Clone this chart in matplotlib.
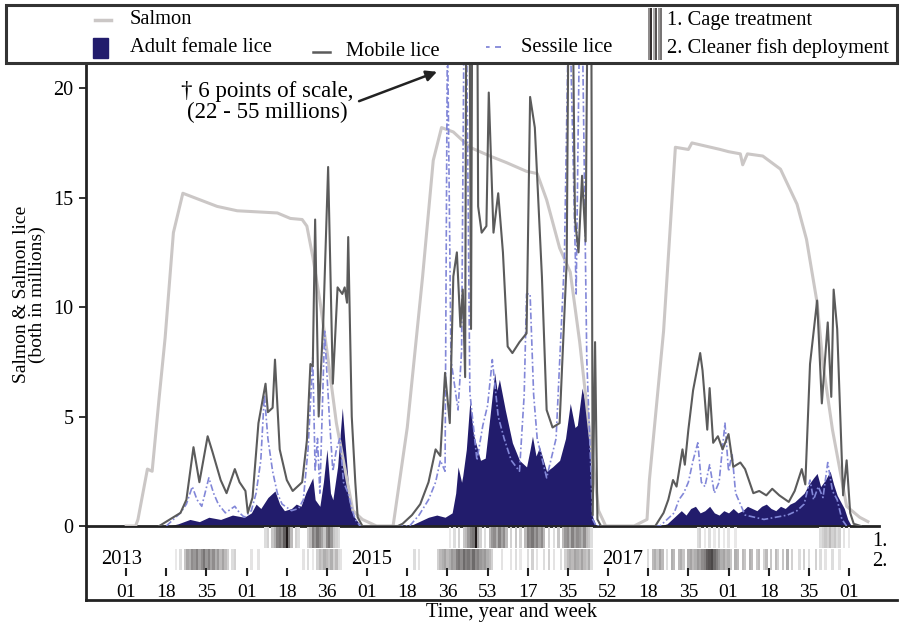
import matplotlib
matplotlib.use('Agg')
import matplotlib.pyplot as plt
from matplotlib.patches import Rectangle
from matplotlib.lines import Line2D

plt.rcParams['font.family'] = ['Liberation Serif', 'DejaVu Serif']

# ---------------- data (week index from 2013 week 01) ----------------
salmon_w = [0, 4, 5, 9, 11, 14, 16.5, 20, 24, 38.5, 47, 64, 69.5, 74.5, 76.5, 79, 82, 85, 89, 93.5, 96, 100, 106,
            113, 119, 125.5, 130, 133.5, 138.5, 145.5, 154, 161, 169.5, 174, 178, 183.5, 188, 192, 196, 200, 203, 215,
            220.5, 221.5, 227.5, 232.5, 238, 239.5, 251.5, 255, 260, 261, 263, 269.5, 277, 284, 288, 292.5, 295, 299,
            305, 310.5, 314]
salmon_v = [0, 0, 0.3, 2.6, 2.5, 5.9, 8.6, 13.4, 15.2, 14.6, 14.4, 14.3, 14.05, 14.0, 13.7, 12.3, 10.3, 8.0, 4.7, 2.1,
            0.7, 0.3, 0,
            0, 4.5, 11.4, 16.7, 18.2, 18.0, 17.3, 16.9, 16.6, 16.2, 16.1, 14.9, 12.7, 11.6, 8.4, 4.5, 0.7, 0, 0,
            0.3, 2.1, 8.9, 17.3, 17.2, 17.5, 17.2, 17.1, 17.0, 16.5, 17.0, 16.9, 16.3, 14.7, 13.1, 10.2, 7.4, 4.4,
            0.9, 0.4, 0.2]

mobile_w = [14, 18.5, 23, 25.5, 28.5, 31, 34.5, 36.5, 40, 42.5, 46, 48, 50.5, 51.5, 53.5, 56, 59, 60, 62, 63, 65, 68,
            70.5, 74.5, 76.5, 78, 79, 80, 81.5, 83.5, 85.5, 87.5, 89.5, 91.5, 92.5, 93.5, 94, 95.5, 97, 98, 100,
            115, 117, 121, 124.5, 128, 131, 133, 135, 137, 138.5, 140, 141.5, 142.5, 143.5, 144.5, 146, 147.5, 149,
            150.5, 152.5, 153.5, 155.5, 157.5, 159.5, 161.5, 163.5, 166.5, 169.5, 171, 173, 176, 178, 180.5, 183.5,
            186.5, 188, 190, 191.5, 193, 194.5, 196.5, 197.5, 198.5, 199.5, 201,
            224, 227.5, 229.5, 231.5, 233, 235.5, 236.5, 238, 240, 243, 244, 246, 247, 248.5, 250.5, 252.5, 255, 257,
            260, 262, 265.5, 268, 271, 273.5, 276.5, 280.5, 283, 286, 287.5, 289.5, 292.5, 294.5, 297, 298.5, 299.5,
            301, 302.5, 303.5, 305, 306.5, 308, 311]
mobile_v = [0, 0.3, 0.6, 1.2, 3.6, 2.0, 4.1, 3.4, 2.1, 1.5, 2.6, 2.0, 1.6, 0.6, 1.3, 4.7, 6.5, 5.2, 5.4, 7.6, 3.5, 2.1,
            1.6, 2.0, 3.9, 7.4, 7.3, 14.0, 5.0, 9.5, 16.4, 6.5, 10.9, 10.6, 10.9, 10.2, 13.2, 5.0, 2.0, 0.4, 0,
            0, 0.1, 0.5, 1.0, 2.0, 3.5, 3.2, 7.0, 4.7, 11.4, 12.5, 9.1, 10.8, 6.8, 45, 9.0, 55, 14.6,
            13.4, 13.7, 19.8, 13.4, 15.2, 12.5, 8.2, 7.9, 8.4, 8.8, 19.6, 18.2, 11.4, 5.3, 4.5, 4.7,
            12.1, 35, 14.0, 12.5, 16.0, 13.0, 40, 0.5, 8.4, 0.3, 0,
            0, 0.6, 1.2, 2.1, 1.8, 3.5, 2.8, 4.4, 6.2, 7.9, 7.1, 4.4, 6.3, 3.8, 4.1, 3.5, 4.2, 2.7,
            2.9, 2.6, 1.5, 1.6, 1.4, 1.7, 1.4, 1.1, 1.6, 2.6, 1.9, 7.4, 10.3, 5.6, 9.3, 5.9, 10.8,
            9.0, 4.4, 1.4, 3.0, 0.6, 0.1, 0]

sessile_w = [17, 20, 23, 25.5, 28, 30, 32, 35, 37, 39, 42, 46, 48, 50, 53, 55, 57, 58.5, 60, 62, 64, 66, 70, 73, 75,
             77, 79, 80, 81, 82, 84, 86, 87.5, 89, 90.5, 92, 94, 95.5, 97, 99,
             120, 124, 128, 131, 133, 135, 136, 137.5, 140.5, 142, 143.5, 145.5, 148.5, 151, 153, 155, 157.5, 160,
             163, 166.5, 168.5, 169.5, 171, 172.5, 174, 178, 182, 185.5, 187.5, 190.5, 192.5, 195, 197.5, 199,
             226, 229, 232, 234, 236, 238, 240, 242, 243.5, 245, 247, 249, 251, 253.5, 255, 256.5, 258, 260, 262,
             266, 270, 275, 280, 284, 287, 289.5, 291, 293, 295, 297, 299, 301, 303, 305]
sessile_v = [0, 0.3, 0.6, 1.0, 1.8, 1.2, 0.9, 2.2, 1.5, 1.0, 0.6, 0.9, 0.6, 0.4, 0.7, 1.5, 3.0, 6.0, 4.0, 2.5, 1.5,
             1.0, 0.7, 0.8, 1.2, 3.5, 7.7, 2.5, 4.0, 1.5, 8.9, 5.0, 2.5, 3.5, 4.0, 2.0, 1.5, 0.8, 0.3, 0,
             0, 0.5, 1.2, 2.0, 3.0, 2.5, 23, 7.6, 5.3, 8.0, 30, 6.1, 3.0, 4.6, 5.5, 7.6, 5.0, 4.0,
             3.0, 2.5, 6.0, 10.6, 10.6, 6.0, 4.0, 2.2, 4.0, 12.1, 25, 10.6, 28, 7.6, 0.3, 0,
             0, 0.3, 0.6, 1.2, 1.5, 2.0, 3.0, 3.8, 2.0, 1.8, 2.8, 1.5, 2.0, 4.7, 2.5, 3.3, 1.5, 1.0, 0.5,
             0.4, 0.3, 0.4, 0.5, 0.7, 1.0, 2.1, 1.2, 1.8, 1.3, 2.9, 1.6, 1.2, 0.3, 0]

female_w = [18, 22, 27, 31, 35, 40, 45, 50, 53, 55, 57, 60, 63, 65, 67, 70, 72, 74, 76, 79, 80, 82, 83.5, 85, 86.5,
            87.5, 89.5, 91.5, 92.5, 94, 96, 98, 99.5,
            120, 124, 128, 131.5, 135, 138, 139.5, 140.5, 142, 142.5, 144, 145.5, 147, 148, 150, 152, 154, 156, 157,
            158, 160.5, 163.5, 166.5, 169.5, 171, 172, 173.5, 175, 178, 180.5, 183.5, 186, 188, 190, 191, 193,
            195.5, 196.5, 197.5, 199,
            226, 229, 231, 233, 235, 237, 239, 241, 243, 245, 247, 249, 251, 253, 255, 257, 259, 261, 263, 265,
            267, 269, 271, 273, 275, 277, 279, 281, 283, 285, 287, 289, 291, 292.5, 294, 296, 298, 299.5, 301,
            302.5, 304, 305.5, 307]
female_v = [0, 0.1, 0.3, 0.2, 0.4, 0.3, 0.5, 0.4, 0.6, 1.0, 0.8, 1.3, 1.6, 1.0, 0.7, 0.8, 1.0, 0.9, 1.5, 2.2, 1.2,
            0.9, 2.0, 3.5, 1.5, 1.2, 2.7, 5.4, 4.0, 2.0, 0.5, 0.2, 0,
            0, 0.2, 0.4, 0.5, 0.4, 0.6, 1.5, 2.7, 2.0, 2.3, 3.5, 5.7, 4.2, 3.8, 3.0, 3.1, 5.0, 7.0, 6.2,
            6.7, 5.3, 3.8, 3.0, 2.7, 3.5, 4.1, 3.2, 3.6, 2.5, 2.7, 3.0, 4.0, 5.6, 4.5, 4.6, 6.3,
            5.1, 3.0, 0.4, 0,
            0, 0.1, 0.3, 0.5, 0.7, 0.5, 0.8, 0.9, 0.6, 0.7, 0.9, 0.6, 0.5, 0.7, 0.6, 0.8, 0.6, 0.7, 0.9, 0.8,
            0.7, 0.9, 1.0, 0.8, 0.7, 0.9, 0.8, 1.0, 1.1, 1.3, 1.5, 1.9, 2.2, 2.4, 1.8, 2.1, 2.5, 1.9, 1.4,
            1.1, 0.8, 0.3, 0]

# treatment events (week, shade 0..1)
cage_w = [59, 60, 62, 63, 64, 65, 66, 67, 68, 69, 70, 72, 73,
          77, 78, 79, 80, 81, 82, 83, 84, 85, 86, 87, 88, 89, 90,
          137, 139, 141, 143, 144, 145, 146, 147, 148, 149, 150, 152, 154, 155, 156, 157, 158, 159, 160, 161, 163,
          165, 167, 169, 170, 171, 172, 173, 174, 175, 176, 177, 179, 181, 183, 185, 186, 187, 188, 189, 190, 191,
          192, 193, 194, 195, 196, 197,
          242, 243, 245, 247, 249, 251, 253, 255, 258,
          294, 295, 296, 297, 298, 299, 300, 301, 302, 304, 306]
cage_shade = [0.15, 0.2, 0.25, 0.35, 0.55, 0.6, 0.5, 0.7, 1.0, 0.6, 0.3, 0.2, 0.15,
              0.2, 0.3, 0.55, 0.45, 0.6, 0.5, 0.4, 0.25, 0.5, 0.6, 0.45, 0.25, 0.2, 0.15,
              0.1, 0.15, 0.2, 0.25, 0.3, 0.45, 0.55, 0.6, 1.0, 0.4, 0.2, 0.15, 0.3, 0.45, 0.5, 0.35, 0.55, 0.4, 0.5,
              0.3, 0.2, 0.25, 0.2, 0.3, 0.55, 0.5, 0.6, 0.45, 0.55, 0.4, 0.5, 0.3, 0.2, 0.15, 0.25, 0.3, 0.45, 0.5,
              0.35, 0.55, 0.4, 0.5, 0.45, 0.35, 0.5, 0.3, 0.25, 0.15,
              0.15, 0.2, 0.1, 0.15, 0.1, 0.15, 0.1, 0.12, 0.1,
              0.15, 0.2, 0.25, 0.2, 0.3, 0.2, 0.25, 0.15, 0.2, 0.12, 0.1]

clean_w = [21, 23, 25, 26, 27, 28, 29, 30, 31, 32, 33, 34, 35, 36, 37, 38, 39, 40, 41, 42, 43, 45, 46,
           53, 56,
           75, 77, 79, 81, 82, 83, 84, 85, 86, 87, 88, 89, 90, 91,
           122, 124,
           132, 133, 134, 135, 136, 137, 138, 139, 140, 141, 142, 143, 144, 145, 146, 147, 148, 149, 150, 151, 152,
           153, 154, 155,
           159,
           163, 165, 167, 170, 172, 174, 177, 179, 181, 184, 186, 187, 188, 189, 190, 191, 192, 193, 194, 195, 196,
           197,
           221, 223, 224, 225, 226, 227, 229, 231, 232, 234, 235, 236, 238, 239, 240, 241, 242, 243, 244, 245, 246,
           247, 248, 249, 250, 251, 252, 253, 254, 255, 256, 258, 259, 261, 262, 264, 265, 267, 268, 270, 271, 273,
           275, 276, 278, 280, 282, 285, 287, 289, 292, 294, 296, 299, 302]
clean_shade = [0.1, 0.15, 0.25, 0.4, 0.35, 0.5, 0.45, 0.55, 0.4, 0.5, 0.6, 0.45, 0.55, 0.4, 0.5, 0.35, 0.45, 0.3,
               0.4, 0.3, 0.2, 0.15, 0.2,
               0.12, 0.12,
               0.12, 0.15, 0.1, 0.2, 0.3, 0.25, 0.35, 0.3, 0.25, 0.35, 0.2, 0.3, 0.15, 0.12,
               0.15, 0.12,
               0.2, 0.3, 0.35, 0.4, 0.3, 0.35, 0.45, 0.4, 0.55, 0.6, 0.5, 0.65, 0.55, 0.6, 0.5, 0.65, 0.5, 0.55,
               0.45, 0.4, 0.45, 0.35, 0.3, 0.2,
               0.12,
               0.12, 0.15, 0.1, 0.15, 0.2, 0.12, 0.15, 0.2, 0.12, 0.15, 0.2, 0.3, 0.35, 0.3, 0.4, 0.35, 0.3, 0.4,
               0.3, 0.25, 0.35, 0.15,
               0.15, 0.3, 0.35, 0.25, 0.4, 0.3, 0.15, 0.35, 0.3, 0.3, 0.35, 0.25, 0.35, 0.4, 0.3, 0.35, 0.45, 0.4,
               0.5, 0.55, 0.7, 0.75, 0.8, 0.65, 0.55, 0.45, 0.35, 0.4, 0.3, 0.35, 0.25, 0.35, 0.3, 0.3, 0.25, 0.35,
               0.3, 0.25, 0.3, 0.2, 0.3, 0.25, 0.3, 0.2, 0.25, 0.35, 0.2, 0.15, 0.2, 0.15, 0.2, 0.15, 0.12, 0.15,
               0.12]

tick_pos = [0, 17, 34, 51, 68, 85, 102, 119, 136, 153, 170, 187, 204, 221, 238, 255, 272, 289, 306]
tick_labels = ['01', '18', '35', '01', '18', '36', '01', '18', '36', '53', '17', '35', '52', '18', '35', '01',
               '18', '35', '01']
year_labels = ['2013', '2015', '2017']
year_pos = [-2, 104, 210]

assert len(salmon_w) == len(salmon_v)
assert len(mobile_w) == len(mobile_v)
assert len(sessile_w) == len(sessile_v)
assert len(female_w) == len(female_v)
assert len(cage_w) == len(cage_shade)
assert len(clean_w) == len(clean_shade)

# ---------------- styling ----------------
W, H = 900, 629
FS = 14
FSL = 14.8
C_SALMON = '#cbc7c6'
C_MOBILE = '#5b5b5b'
C_SESSILE = '#8287d8'
C_FEMALE = '#221c6c'
C_AX = '#222222'


def fx(px):
    return px / W


def fy(py):
    return 1 - py / H


def shade_color(d):
    return (1 - 0.88 * d, 1 - 0.9 * d, 1 - 0.9 * d)


fig = plt.figure(figsize=(9, 6.29), dpi=100)

L, R = 86, 879
ax = fig.add_axes([fx(L), fy(526), fx(R) - fx(L), fy(63) - fy(526)])
ax2 = fig.add_axes([fx(L), fy(576), fx(R) - fx(L), fy(526) - fy(576)], sharex=ax)
axf = fig.add_axes([fx(L), fy(600), fx(897) - fx(L), fy(526) - fy(600)], zorder=-1)
for a in (ax, ax2, axf):
    a.patch.set_visible(False)

# main plot
ax.fill_between(female_w, 0, female_v, color=C_FEMALE, lw=0, zorder=2)
ax.plot(salmon_w, salmon_v, color=C_SALMON, lw=2.2, zorder=3)
ax.plot(sessile_w, sessile_v, color=C_SESSILE, lw=1.2, dashes=(4, 1.5, 1, 1.5), zorder=4)
ax.plot(mobile_w, mobile_v, color=C_MOBILE, lw=1.5, zorder=5)

ax.set_xlim(-17, 318.7)
ax.set_ylim(0, 21.15)
ax.set_yticks([0, 5, 10, 15, 20])
ax.tick_params(axis='y', labelsize=FS + 0.5, length=5, width=1.3, color=C_AX, pad=4)
ax.tick_params(axis='x', bottom=False, labelbottom=False)
for s in ('top', 'right'):
    ax.spines[s].set_visible(False)
for s in ('left', 'bottom'):
    ax.spines[s].set_linewidth(2)
    ax.spines[s].set_color(C_AX)
ax.set_ylabel('Salmon & Salmon lice\n(both in millions)', fontsize=FS, labelpad=5, linespacing=0.9)

ax.annotate('\u2020 6 points of scale,\n(22 - 55 millions)', xy=(131.6, 20.75), xytext=(59.8, 19.35),
            ha='center', va='center', fontsize=16.5, linespacing=1.0,
            arrowprops=dict(arrowstyle='-|>', color=C_AX, lw=1.8, mutation_scale=16,
                            relpos=(0.98, 0.45), shrinkA=2, shrinkB=0))

# treatment strip
ax2.set_ylim(0, 1)
ax2.bar(cage_w, 0.43, bottom=0.56, width=1.0, color=[shade_color(d) for d in cage_shade], lw=0)
ax2.bar(clean_w, 0.42, bottom=0.13, width=1.0, color=[shade_color(d) for d in clean_shade], lw=0)
for s in ax2.spines.values():
    s.set_visible(False)
ax2.set_yticks([])
ax2.set_xticks(tick_pos)
ax2.set_xticklabels(tick_labels)
ax2.tick_params(axis='x', direction='in', length=6, width=1.5, color=C_AX, pad=6, labelsize=FS)
for yl, yp in zip(year_labels, year_pos):
    ax2.text(yp, 0.33, yl, fontsize=FSL, ha='center', va='center', zorder=5)
ax2.text(316.0, 0.70, '1.', fontsize=FSL, ha='left', va='center', clip_on=False)
ax2.text(315.6, 0.30, '2.', fontsize=FSL, ha='left', va='center', clip_on=False)

# frame for strip
axf.set_xticks([])
axf.set_yticks([])
for s in ('top', 'right'):
    axf.spines[s].set_visible(False)
for s in ('left', 'bottom'):
    axf.spines[s].set_linewidth(2)
    axf.spines[s].set_color(C_AX)

fig.text(fx(512), fy(612), 'Time, year and week', fontsize=FSL, ha='center', va='center')

# legend box
fig.add_artist(Rectangle((fx(6), fy(63)), fx(897) - fx(6), fy(5) - fy(63), fill=False,
                         edgecolor='#333333', lw=2.2, transform=fig.transFigure))
fig.add_artist(Line2D([fx(95), fx(111)], [fy(20), fy(20)], color=C_SALMON, lw=2.5, transform=fig.transFigure))
fig.text(fx(130), fy(20), 'Salmon', fontsize=FSL, va='center', ha='left')
fig.add_artist(Rectangle((fx(93), fy(58)), fx(108) - fx(93), fy(38) - fy(58), color=C_FEMALE,
                         transform=fig.transFigure))
fig.text(fx(130), fy(48), 'Adult female lice', fontsize=FSL, va='center', ha='left')
fig.add_artist(Line2D([fx(313), fx(330)], [fy(52), fy(52)], color=C_MOBILE, lw=1.8, transform=fig.transFigure))
fig.text(fx(346), fy(51), 'Mobile lice', fontsize=FSL, va='center', ha='left')
fig.add_artist(Line2D([fx(486), fx(501)], [fy(47), fy(47)], color=C_SESSILE, lw=1.3, dashes=(2, 3, 4, 3),
                      transform=fig.transFigure))
fig.text(fx(521), fy(48), 'Sessile lice', fontsize=FSL, va='center', ha='left')
handle_bars = [(648, 0.5), (650, 0.9), (652.5, 0.35), (655, 0.75), (657.5, 0.45), (659.5, 0.6)]
for hx, hd in handle_bars:
    fig.add_artist(Rectangle((fx(hx), fy(60)), fx(2), fy(8) - fy(60), color=shade_color(hd), lw=0,
                             transform=fig.transFigure))
fig.text(fx(667), fy(20), '1. Cage treatment', fontsize=FSL, va='center', ha='left')
fig.text(fx(667), fy(48), '2. Cleaner fish deployment', fontsize=FSL, va='center', ha='left')

fig.savefig('out.png', dpi=100)
